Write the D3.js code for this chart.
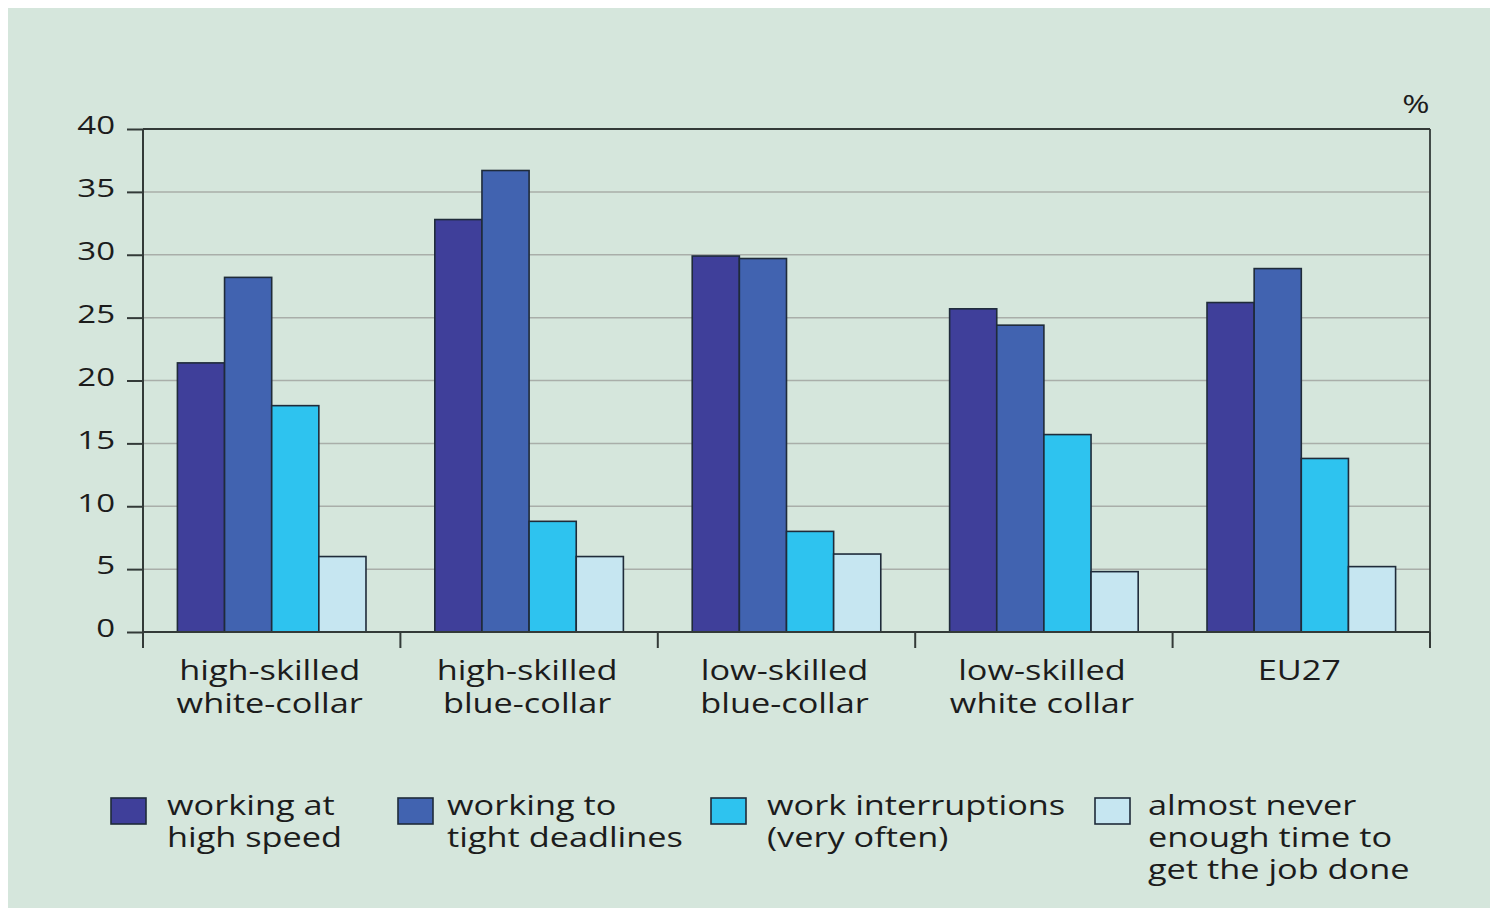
<!DOCTYPE html>
<html>
<head>
<meta charset="utf-8">
<script src="https://cdn.jsdelivr.net/npm/d3@7"></script>
<style>
  html, body { margin: 0; padding: 0; background: #ffffff; }
  svg { display: block; }
  text { font-family: "Open Sans", "DejaVu Sans", sans-serif; fill: #1c1c1c; font-weight: 500; }
</style>
</head>
<body>
<svg id="chart" width="1492" height="910"></svg>
<script>
// Occupational groups along the x axis (two label lines each)
const categories = [
  ["high-skilled", "white-collar"],
  ["high-skilled", "blue-collar"],
  ["low-skilled", "blue-collar"],
  ["low-skilled", "white collar"],
  ["EU27"]
];
const categoryKeys = categories.map(c => c.join(" "));

// Series labels (legend lines) and values in %
const seriesNames = [
  ["working at", "high speed"],
  ["working to", "tight deadlines"],
  ["work interruptions", "(very often)"],
  ["almost never", "enough time to", "get the job done"]
];
const highSpeed      = [21.4, 32.8, 29.9, 25.7, 26.2];
const tightDeadlines = [28.2, 36.7, 29.7, 24.4, 28.9];
const interruptions  = [18.0,  8.8,  8.0, 15.7, 13.8];
const notEnoughTime  = [ 6.0,  6.0,  6.2,  4.8,  5.2];
const seriesValues = [highSpeed, tightDeadlines, interruptions, notEnoughTime];

const yTicks = [0, 5, 10, 15, 20, 25, 30, 35, 40];
const colors = ["#3f3f9a", "#4163b0", "#2ec3ef", "#c6e6f1"];

// the typeface is set wide; stretch glyphs horizontally
const SX = 1.27;

const svg = d3.select("#chart");

// panel background
svg.append("rect").attr("x", 8).attr("y", 8).attr("width", 1482).attr("height", 900)
  .attr("fill", "#d5e6dc");

const plotLeft = 143, plotRight = 1430, plotTop = 129, plotBottom = 632;

const x0 = d3.scaleBand().domain(categoryKeys).range([plotLeft, plotRight]).paddingInner(0).paddingOuter(0);
const x1 = d3.scaleBand().domain(d3.range(seriesValues.length))
  .range([0, x0.bandwidth()]).paddingOuter(0.73).paddingInner(0);
const y = d3.scaleLinear().domain([0, 40]).range([plotBottom, plotTop]);

function wideText(parent, x, yPos, lines, size, anchor, lineGap) {
  const t = parent.append("text")
    .attr("transform", `translate(${x},${yPos}) scale(${SX},1)`)
    .attr("text-anchor", anchor).attr("font-size", size);
  lines.forEach((ln, j) => t.append("tspan").attr("x", 0).attr("dy", j === 0 ? 0 : lineGap).text(ln));
  return t;
}

// horizontal grid lines
svg.append("g").selectAll("line").data(yTicks.filter(t => t > 0 && t < 40)).join("line")
  .attr("x1", plotLeft).attr("x2", plotRight)
  .attr("y1", d => y(d)).attr("y2", d => y(d))
  .attr("stroke", "#a9aea9").attr("stroke-width", 1.5);

// frame: top and right
svg.append("line").attr("x1", plotLeft).attr("x2", plotRight).attr("y1", plotTop).attr("y2", plotTop)
  .attr("stroke", "#333a38").attr("stroke-width", 2.2);
svg.append("line").attr("x1", plotRight).attr("x2", plotRight).attr("y1", plotTop).attr("y2", plotBottom)
  .attr("stroke", "#333a38").attr("stroke-width", 1.8);

// bars
const groups = svg.append("g").selectAll("g").data(categoryKeys).join("g")
  .attr("transform", d => `translate(${x0(d)},0)`);
groups.selectAll("rect")
  .data((d, i) => seriesValues.map((s, k) => ({ k, v: s[i] })))
  .join("rect")
  .attr("x", d => x1(d.k))
  .attr("width", x1.bandwidth())
  .attr("y", d => y(d.v))
  .attr("height", d => y(0) - y(d.v))
  .attr("fill", d => colors[d.k])
  .attr("stroke", "#1f2b3a").attr("stroke-width", 1.6);

// y axis
const yAxis = svg.append("g").attr("transform", `translate(${plotLeft},0)`)
  .call(d3.axisLeft(y).tickValues(yTicks).tickSize(16).tickPadding(12));
yAxis.select(".domain").attr("stroke", "#333a38").attr("stroke-width", 2)
  .attr("d", `M0,${plotTop}V${plotBottom + 16}`);
yAxis.selectAll(".tick line").attr("stroke", "#333a38").attr("stroke-width", 2);
yAxis.selectAll(".tick text")
  .attr("font-size", 26).attr("fill", "#1c1c1c")
  .attr("font-family", "\"Open Sans\", sans-serif").attr("font-weight", 500)
  .attr("x", 0).attr("dy", "0.3em")
  .attr("transform", `translate(-28,-3) scale(${SX},1)`);

// x axis baseline with ticks at group boundaries
const xAxis = svg.append("g").attr("transform", `translate(0,${plotBottom})`);
xAxis.append("line").attr("x1", plotLeft).attr("x2", plotRight).attr("y1", 0).attr("y2", 0)
  .attr("stroke", "#333a38").attr("stroke-width", 2);
const boundaries = categoryKeys.map(k => x0(k)).concat([plotRight]);
xAxis.selectAll("line.b").data(boundaries).join("line").attr("class", "b")
  .attr("x1", d => d).attr("x2", d => d).attr("y1", 0).attr("y2", 16)
  .attr("stroke", "#333a38").attr("stroke-width", 2);

// category labels
categories.forEach((lines, i) => {
  const cx = x0(categoryKeys[i]) + x0.bandwidth() / 2;
  wideText(svg, cx - 2, 680, lines, 27, "middle", 33);
});

// unit label
wideText(svg, 1416, 113, ["%"], 26, "middle", 0);

// legend
const legendX = [111, 398, 711, 1095];
const legendTextX = [167, 447, 767, 1148];
seriesNames.forEach((lines, k) => {
  svg.append("rect").attr("x", legendX[k]).attr("y", 798).attr("width", 35).attr("height", 26)
    .attr("fill", colors[k]).attr("stroke", "#1f2b3a").attr("stroke-width", 1.6);
  wideText(svg, legendTextX[k], 815, lines, 27, "start", 32);
});
</script>
</body>
</html>
